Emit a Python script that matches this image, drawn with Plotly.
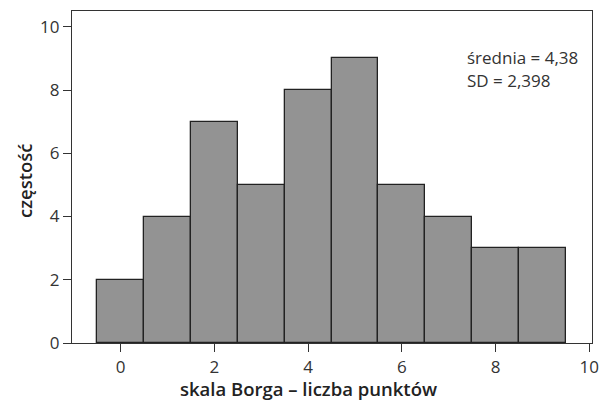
import plotly.graph_objects as go

points = [0, 1, 2, 3, 4, 5, 6, 7, 8, 9]
counts = [2, 4, 7, 5, 8, 9, 5, 4, 3, 3]
x_ticks = [0, 2, 4, 6, 8, 10]
y_ticks = [0, 2, 4, 6, 8, 10]
stats_lines = ["średnia = 4,38", "SD = 2,398"]
x_title = "skala Borga – liczba punktów"
y_title = "częstość"

W, H = 599, 401
ml, mr, mt, mb = 72, 7, 11, 58
plot_w = W - ml - mr
plot_h = H - mt - mb

fig = go.Figure()
fig.add_trace(go.Bar(
    x=points, y=counts, width=1,
    marker=dict(color="#939393", line=dict(color="#222222", width=1.3)),
    hoverinfo="skip",
))

axis_common = dict(
    showline=True, linecolor="#333333", linewidth=1.3, mirror=True,
    ticks="outside", ticklen=8, tickwidth=1.3, tickcolor="#333333",
    showgrid=False, zeroline=False, automargin=False,
    tickfont=dict(family="Open Sans", size=17, color="#333333"),
)

fig.update_layout(
    width=W, height=H,
    margin=dict(l=ml, r=mr, t=mt, b=mb, autoexpand=False),
    paper_bgcolor="white", plot_bgcolor="white",
    showlegend=False,
    bargap=0,
    xaxis=dict(range=[-1.04, 10.06], tickvals=x_ticks, **axis_common),
    yaxis=dict(range=[0, 10.5], tickvals=y_ticks, **axis_common),
)

title_font = dict(family="Open Sans", size=18.5, color="#222222", weight=600)
fig.add_annotation(
    xref="paper", yref="paper",
    x=(308 - ml) / plot_w, y=0, yshift=-31,
    xanchor="center", yanchor="top",
    text=x_title, showarrow=False, font=title_font,
)
fig.add_annotation(
    xref="paper", yref="paper",
    x=(24 - ml) / plot_w, y=1 - (181 - mt) / plot_h,
    xanchor="center", yanchor="middle", textangle=-90,
    text=y_title, showarrow=False, font=title_font,
)
for i, line in enumerate(stats_lines):
    fig.add_annotation(
        xref="paper", yref="paper",
        x=(465 - ml) / plot_w, y=1, yshift=-33 - 22.5 * i,
        xanchor="left", yanchor="top", align="left",
        text=line, showarrow=False,
        font=dict(family="Open Sans", size=17, color="#333333"),
    )

fig.write_html("out.html")
